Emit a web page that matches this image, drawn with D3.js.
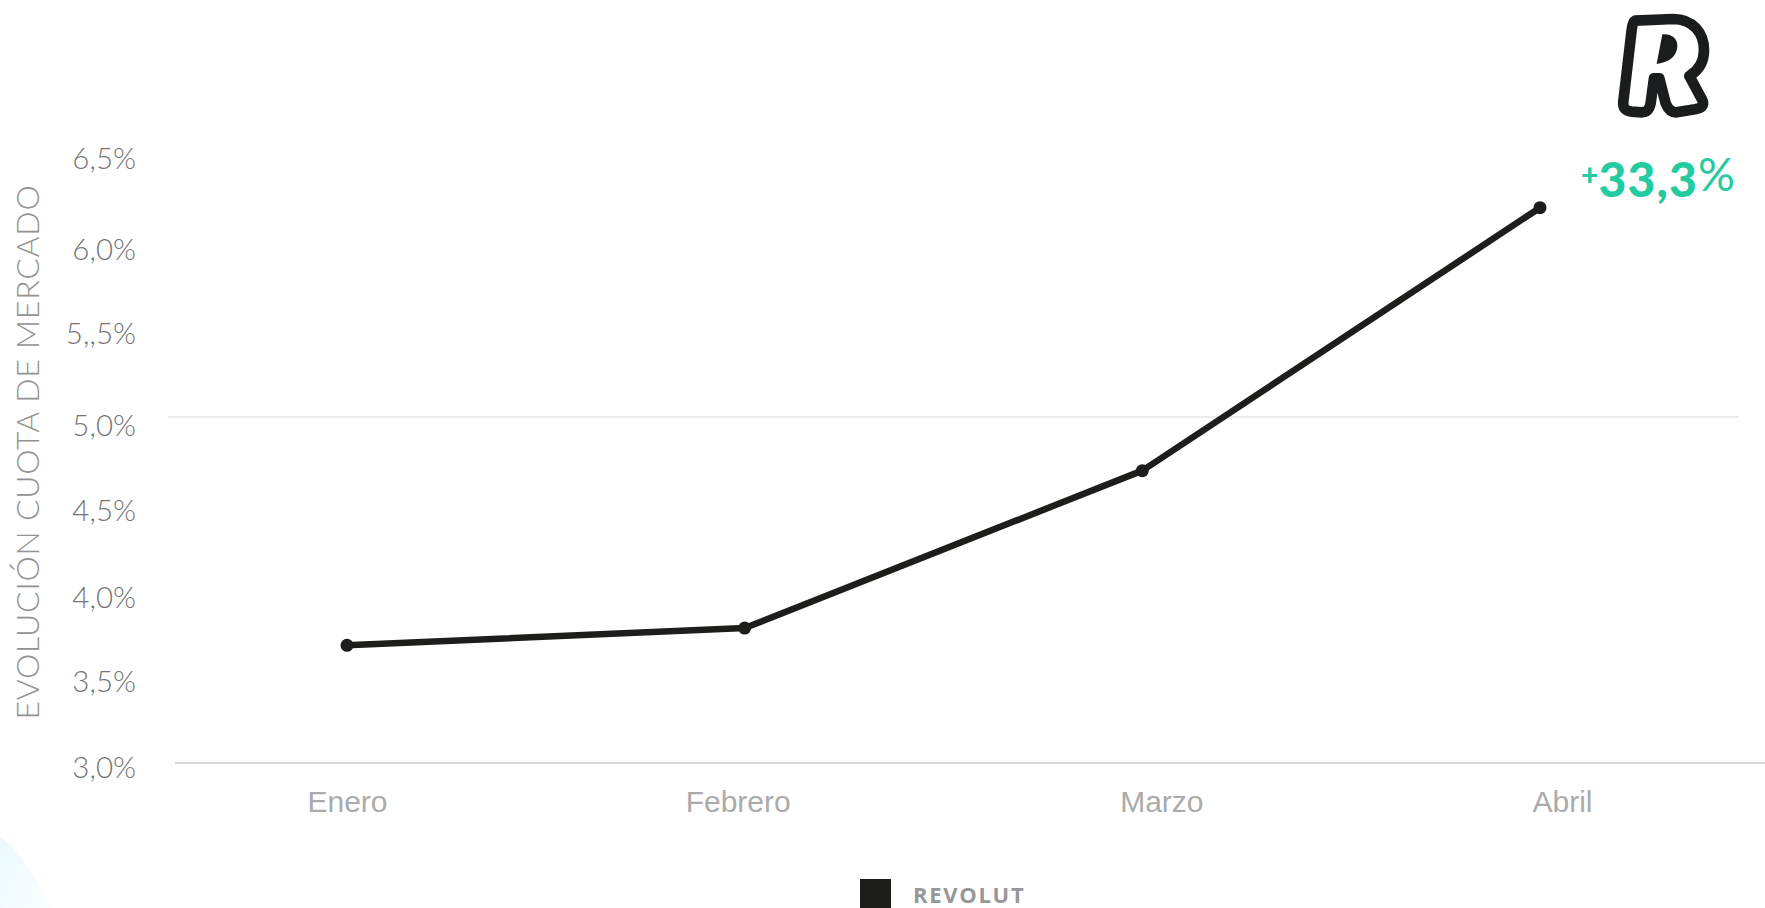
<!DOCTYPE html>
<html>
<head>
<meta charset="utf-8">
<script src="https://cdn.jsdelivr.net/npm/d3@7"></script>
<style>
  html, body { margin: 0; padding: 0; background: #fff; overflow: hidden; }
  svg { display: block; }
</style>
</head>
<body>
<div id="chart"></div>
<script>
const meses = ["Enero", "Febrero", "Marzo", "Abril"];
const cuota = [3.68, 3.78, 4.69, 6.21];
const yTicks = [3, 3.5, 4, 4.5, 5, 5.5, 6, 6.5];
const yLabels = ["3,0%", "3,5%", "4,0%", "4,5%", "5,0%", "5,,5%", "6,0%", "6,5%"];
const serie = "REVOLUT";
const tituloY = "EVOLUCIÓN CUOTA DE MERCADO";

const width = 1765,
      height = 908;

const svg = d3.select("#chart")
    .append("svg")
    .attr("width", width)
    .attr("height", height);

// pale corner of the original background
const grad = svg.append("defs").append("linearGradient")
    .attr("id", "esquina")
    .attr("x1", 0).attr("y1", 0.2)
    .attr("x2", 1).attr("y2", 0.9);
grad.append("stop").attr("offset", "0%").style("stop-color", "#ecfafe");
grad.append("stop").attr("offset", "100%").style("stop-color", "#fbfeff");
svg.append("path")
    .attr("d", "M0,836 C18,850 40,880 50,908 L0,908 Z")
    .style("fill", "url(#esquina)");

const x = d3.scalePoint().domain(meses).range([347, 1540]);
const y = d3.scaleLinear().domain([3, 6.5]).range([763, 157.5]);

// the only gridline in the chart, at 5,0%
svg.append("line")
    .attr("x1", 168).attr("x2", 1739)
    .attr("y1", y(5)).attr("y2", y(5))
    .style("stroke", "#e4e4e4")
    .style("stroke-width", 1.3);

// labels in the original were placed by hand, not exactly on the ticks
const yNudge = [4, 4.5, 7, 6.5, 8, 3, 5.5, 1];
const xNudge = [0, -7, 19, 22];

const yAxis = svg.append("g")
    .attr("transform", "translate(136,0)")
    .call(d3.axisLeft(y).tickValues(yTicks).tickSize(0).tickPadding(0)
      .tickFormat((d, i) => yLabels[i]));
yAxis.select(".domain").remove();
yAxis.selectAll("text")
    .attr("dy", (d, i) => yNudge[i] + 10)
    .style("font-family", "Lato")
    .style("font-weight", 300)
    .style("font-size", "29.5px")
    .style("fill", "#757575");

const xAxis = svg.append("g")
    .attr("transform", "translate(0,763)")
    .call(d3.axisBottom(x).tickSize(0).tickPadding(0));
xAxis.select(".domain").remove();
xAxis.selectAll("text")
    .attr("dx", (d, i) => xNudge[i])
    .attr("y", 27)
    .attr("dy", 0)
    .attr("dominant-baseline", "hanging")
    .style("font-family", "'Liberation Sans'")
    .style("font-size", "30px")
    .style("fill", "#ababab");

svg.append("line")
    .attr("x1", 175).attr("x2", 1765)
    .attr("y1", 763).attr("y2", 763)
    .style("stroke", "#cbcbd0")
    .style("stroke-width", 1.6);

svg.append("text")
    .attr("transform", "translate(39,452) rotate(-90)")
    .attr("text-anchor", "middle")
    .text(tituloY)
    .style("font-family", "Lato")
    .style("font-weight", 300)
    .style("font-size", "32px")
    .style("letter-spacing", "0.75px")
    .style("fill", "#939393");

const line = d3.line()
    .x(d => x(d.mes))
    .y(d => y(d.valor));
const puntos = meses.map((m, i) => ({mes: m, valor: cuota[i]}));

svg.append("path")
    .datum(puntos)
    .attr("d", line)
    .style("fill", "none")
    .style("stroke", "#1d1d1b")
    .style("stroke-width", 6.5)
    .style("stroke-linejoin", "round");

svg.append("g")
    .selectAll("circle")
    .data(puntos)
    .enter().append("circle")
    .attr("cx", d => x(d.mes))
    .attr("cy", d => y(d.valor))
    .attr("r", 6.5)
    .style("fill", "#1d1d1b");

// legend
svg.append("rect")
    .attr("x", 860).attr("y", 879)
    .attr("width", 31).attr("height", 29)
    .style("fill", "#1d1d1b");
svg.append("text")
    .attr("x", 913).attr("y", 903)
    .text(serie)
    .style("font-family", "'Open Sans'")
    .style("font-weight", 700)
    .style("font-size", "22px")
    .style("letter-spacing", "1.7px")
    .style("fill", "#979797");

// annotation
const anot = svg.append("text")
    .attr("x", 1581).attr("y", 197)
    .style("font-family", "Lato")
    .style("fill", "#25cba0");
anot.append("tspan").text("+")
    .attr("dy", -11)
    .style("font-weight", 900)
    .style("font-size", "30px");
anot.append("tspan").text("33,3")
    .attr("dy", 11)
    .style("font-weight", 900)
    .style("font-size", "48px")
    .style("letter-spacing", "1.2px");
anot.append("tspan").text("%")
    .attr("dy", -6)
    .style("font-weight", 400)
    .style("font-size", "46px");

// Revolut logo
const logo = svg.append("g")
    .attr("transform", "translate(1500,0) scale(0.3333)");
logo.append("path")
    .attr("d", "M405,62 L520,57 C580,57 612,100 612,150 C612,190 590,215 568,228 L607,300 C615,320 600,325 585,328 L530,337 C515,338 505,330 497,310 L478,235 L462,235 L452,310 C448,330 440,337 425,337 L395,335 C375,333 368,322 370,305 L395,90 C397,72 400,64 405,62 Z")
    .style("fill", "#fff")
    .style("stroke", "#1a1c1e")
    .style("stroke-width", 32)
    .style("stroke-linejoin", "round");
logo.append("path")
    .attr("d", "M487,103 C517,100 535,118 532,142 C529,168 510,187 470,192 Z")
    .style("fill", "#1a1c1e");
</script>
</body>
</html>
